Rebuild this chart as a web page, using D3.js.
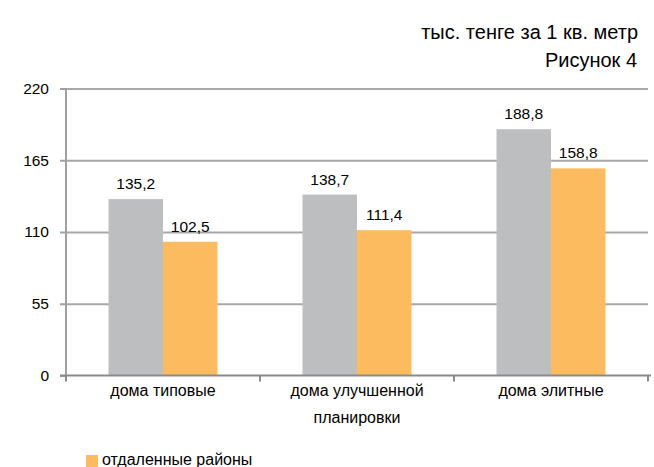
<!DOCTYPE html>
<html><head><meta charset="utf-8">
<script src="https://cdn.jsdelivr.net/npm/d3@7"></script>
<style>
body{margin:0;background:#fff;}
text{font-family:"Liberation Sans",Arial,sans-serif;fill:#000;}
</style></head>
<body><svg id="c" width="654" height="467"></svg>
<script>
const categories = [["дома типовые"], ["дома улучшенной", "планировки"], ["дома элитные"]];
const seriesNames = ["центральные районы", "отдаленные районы"];
const seriesColors = ["#BDBEC0", "#FDBB60"];
const central = [135.2, 138.7, 188.8];
const remote = [102.5, 111.4, 158.8];
const yTicks = [0, 55, 110, 165, 220];
const title1 = "тыс. тенге за 1 кв. метр";
const title2 = "Рисунок 4";

(function () {
const svg = d3.select("#c");
const mLeft = 66, mRight = 648, mTop = 88.5, mBottom = 375.5;
const catKeys = categories.map((c, i) => i);
const x0 = d3.scaleBand().domain(catKeys).range([mLeft, mRight]).padding(0);
const x1 = d3.scaleBand().domain([0, 1]).range([0, x0.bandwidth()]).paddingInner(0).paddingOuter(0.78);
const y = d3.scaleLinear().domain([0, 220]).range([mBottom, mTop]);
const vals = [central, remote];

// gridlines
const grid = svg.append("g").attr("transform", `translate(${mLeft},0)`)
  .call(d3.axisLeft(y).tickValues(yTicks.filter(t => t > 0)).tickSize(-(mRight - mLeft)).tickFormat(""));
grid.select(".domain").remove();
grid.selectAll("line").attr("stroke", "#A8A8A8").attr("stroke-width", 2);

// y axis
const ya = svg.append("g").attr("transform", `translate(${mLeft},0)`)
  .call(d3.axisLeft(y).tickValues(yTicks).tickSize(6).tickPadding(11).tickFormat(d => d));
ya.select(".domain").attr("stroke", "#A0A0A0").attr("stroke-width", 2).attr("d", `M0,${mTop}V${mBottom}`);
ya.selectAll("line").attr("stroke", "#A0A0A0").attr("stroke-width", 2);
ya.selectAll("text").attr("font-size", 15.5).attr("font-family", "Liberation Sans, Arial, sans-serif").attr("fill", "#000");

// bars
catKeys.forEach(ci => {
  [0, 1].forEach(si => {
    const v = vals[si][ci];
    svg.append("rect")
      .attr("x", x0(ci) + x1(si)).attr("width", x1.bandwidth())
      .attr("y", y(v)).attr("height", y(0) - y(v))
      .attr("fill", seriesColors[si]);
    svg.append("text")
      .attr("x", x0(ci) + x1(si) + x1.bandwidth() / 2)
      .attr("y", y(v) - 10)
      .attr("text-anchor", "middle").attr("font-size", 15.5)
      .text(d3.format(".1f")(v).replace(".", ","));
  });
});

// x axis
const xa = svg.append("g").attr("transform", `translate(0,${mBottom})`)
  .call(d3.axisBottom(x0).tickSize(0).tickFormat(""));
xa.select(".domain").attr("stroke", "#8A8A8A").attr("stroke-width", 2).attr("d", `M${mLeft - 6},0H${mRight + 3}`);
const bounds = catKeys.map(k => x0(k)).concat([mRight]);
bounds.forEach(b => {
  svg.append("line").attr("x1", b).attr("x2", b).attr("y1", mBottom).attr("y2", mBottom + 6)
    .attr("stroke", "#8A8A8A").attr("stroke-width", 2);
});
catKeys.forEach(ci => {
  categories[ci].forEach((line, li) => {
    svg.append("text").attr("x", x0(ci) + x0.bandwidth() / 2)
      .attr("y", 396 + li * 27).attr("text-anchor", "middle").attr("font-size", 16).text(line);
  });
});

// titles
svg.append("text").attr("x", 638).attr("y", 39).attr("text-anchor", "end").attr("font-size", 20).text(title1);
svg.append("text").attr("x", 637).attr("y", 67).attr("text-anchor", "end").attr("font-size", 20).text(title2);

// legend (visible part)
svg.append("rect").attr("x", 86).attr("y", 455).attr("width", 12).attr("height", 12).attr("fill", seriesColors[1]);
svg.append("text").attr("x", 102).attr("y", 465).attr("font-size", 16).text(seriesNames[1]);
})();
</script></body></html>
